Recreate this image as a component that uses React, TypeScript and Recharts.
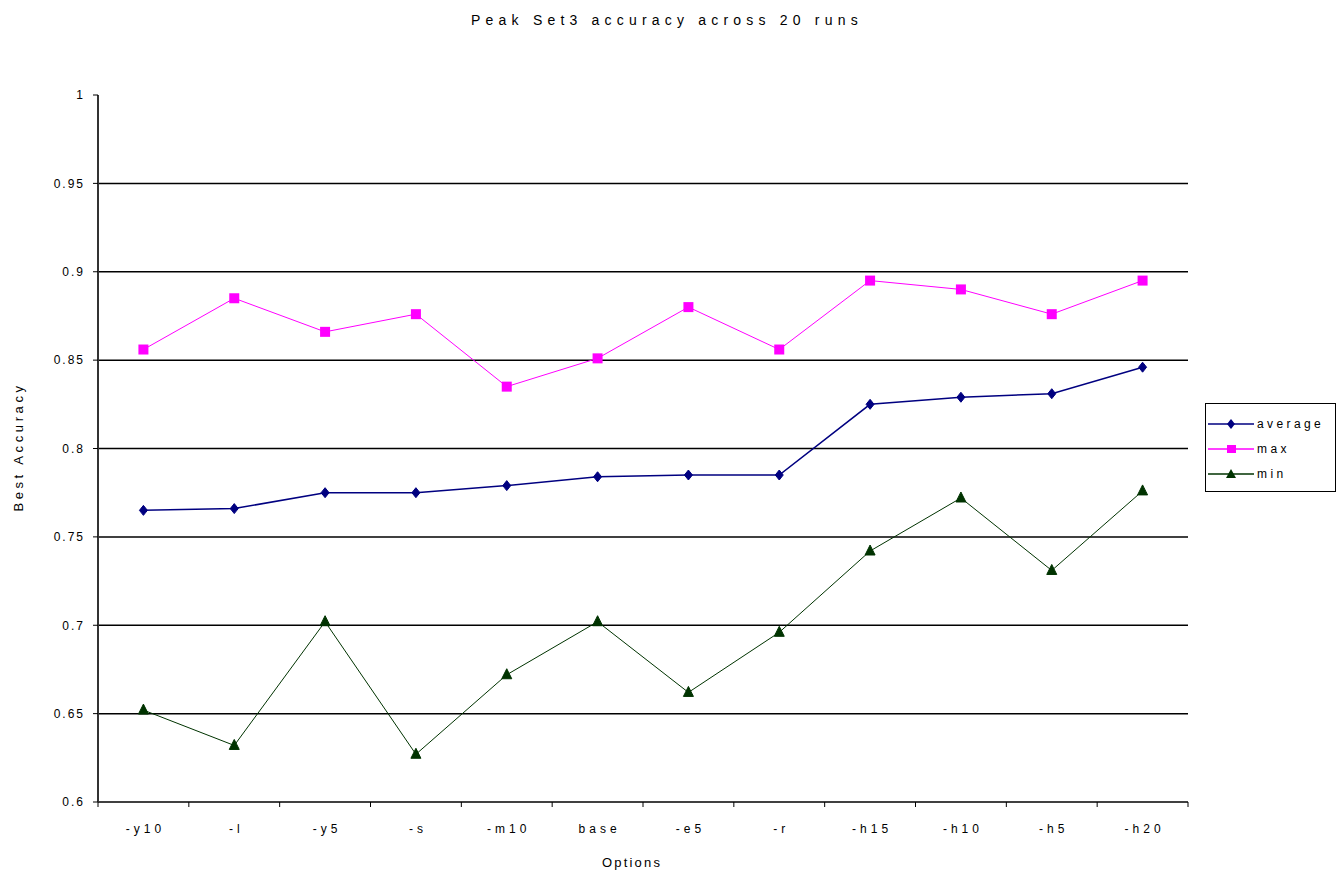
import React from "react";
import { LineChart, Line, XAxis, YAxis, ReferenceLine } from "recharts";

const categories = ["-y10", "-l", "-y5", "-s", "-m10", "base", "-e5", "-r", "-h15", "-h10", "-h5", "-h20"];
const averageValues = [0.765, 0.766, 0.775, 0.775, 0.779, 0.784, 0.785, 0.785, 0.825, 0.829, 0.831, 0.846];
const maxValues = [0.856, 0.885, 0.866, 0.876, 0.835, 0.851, 0.880, 0.856, 0.895, 0.890, 0.876, 0.895];
const minValues = [0.652, 0.632, 0.702, 0.627, 0.672, 0.702, 0.662, 0.696, 0.742, 0.772, 0.731, 0.776];
const yTicks = [0.6, 0.65, 0.7, 0.75, 0.8, 0.85, 0.9, 0.95, 1];
const gridValues = [0.65, 0.7, 0.75, 0.8, 0.85, 0.9, 0.95];

const data = categories.map((c, i) => ({
  name: c,
  average: averageValues[i],
  max: maxValues[i],
  min: minValues[i],
}));

const W = 1337;
const H = 873;
const PLOT_LEFT = 98;
const PLOT_RIGHT = 1188;
const PLOT_TOP = 95;
const PLOT_BOTTOM = 802;
const Y_AXIS_W = 60;
const X_AXIS_H = 30;
const STEP = (PLOT_RIGHT - PLOT_LEFT) / categories.length;
const FONT = "'Liberation Sans', Arial, sans-serif";

const AVG_COLOR = "#000080";
const MAX_COLOR = "#FF00FF";
const MIN_COLOR = "#003300";

const Diamond = (props: any) => {
  const { cx, cy } = props;
  if (cx == null || cy == null) return null;
  return (
    <polygon
      points={`${cx},${cy - 5} ${cx + 4},${cy} ${cx},${cy + 5} ${cx - 4},${cy}`}
      fill={AVG_COLOR}
      stroke={AVG_COLOR}
    />
  );
};

const Square = (props: any) => {
  const { cx, cy } = props;
  if (cx == null || cy == null) return null;
  return <rect x={cx - 5} y={cy - 5} width={10} height={10} fill={MAX_COLOR} />;
};

const Triangle = (props: any) => {
  const { cx, cy } = props;
  if (cx == null || cy == null) return null;
  return (
    <polygon
      points={`${cx},${cy - 6} ${cx + 5},${cy + 4} ${cx - 5},${cy + 4}`}
      fill={MIN_COLOR}
      stroke={MIN_COLOR}
    />
  );
};

const XTick = (props: any) => {
  const { x, y, payload, index } = props;
  const lines = [<line key="l" x1={x - STEP / 2} x2={x - STEP / 2} y1={y - 8} y2={y - 3} stroke="#000" />];
  if (index === categories.length - 1) {
    lines.push(<line key="r" x1={x + STEP / 2} x2={x + STEP / 2} y1={y - 8} y2={y - 3} stroke="#000" />);
  }
  return (
    <g>
      {lines}
      <text
        x={x + 2}
        y={y + 23}
        textAnchor="middle"
        fontFamily={FONT}
        fontSize={12}
        letterSpacing={4}
        fill="#000"
      >
        {payload.value}
      </text>
    </g>
  );
};

const legendItems = [
  { label: "average", color: AVG_COLOR, shape: "diamond" },
  { label: "max", color: MAX_COLOR, shape: "square" },
  { label: "min", color: MIN_COLOR, shape: "triangle" },
];

const LegendMarker = ({ color, shape }: { color: string; shape: string }) => (
  <svg width={48} height={12} style={{ display: "block" }}>
    <line x1={2} x2={48} y1={6} y2={6} stroke={color} strokeWidth={1.5} />
    {shape === "diamond" && <polygon points="25,1 29,6 25,11 21,6" fill={color} />}
    {shape === "square" && <rect x={21} y={2} width={9} height={8} fill={color} />}
    {shape === "triangle" && <polygon points="25,1 30,10 20,10" fill={color} />}
  </svg>
);

export default function App() {
  return (
    <div style={{ position: "absolute", left: 0, top: 0, width: W, height: H, background: "#fff" }}>
      <LineChart
        width={W}
        height={H}
        data={data}
        margin={{
          top: PLOT_TOP,
          right: W - PLOT_RIGHT,
          left: PLOT_LEFT - Y_AXIS_W,
          bottom: H - PLOT_BOTTOM - X_AXIS_H,
        }}
      >
        <XAxis
          dataKey="name"
          height={X_AXIS_H}
          padding={{ left: STEP / 2, right: STEP / 2 }}
          tickLine={false}
          axisLine={{ stroke: "#000", strokeWidth: 1.5 }}
          tick={<XTick />}
          interval={0}
        />
        <XAxis
          xAxisId="top"
          orientation="top"
          dataKey="name"
          height={0}
          tick={false}
          tickLine={false}
          axisLine={{ stroke: "#999", strokeWidth: 1 }}
        />
        <YAxis
          width={Y_AXIS_W}
          domain={[0.6, 1]}
          ticks={yTicks}
          interval={0}
          tickSize={5}
          tickMargin={8}
          tickLine={{ stroke: "#000" }}
          axisLine={{ stroke: "#333", strokeWidth: 2 }}
          tickFormatter={(v: number) => (v === 1 ? "1" : String(v))}
          tick={{ fontFamily: FONT, fontSize: 12, fill: "#000", letterSpacing: 2 }}
        />
        <YAxis
          yAxisId="right"
          orientation="right"
          width={0}
          domain={[0.6, 1]}
          tick={false}
          tickLine={false}
          axisLine={{ stroke: "#999", strokeWidth: 1.5 }}
        />
        {gridValues.map((g) => (
          <ReferenceLine key={g} y={g} stroke="#000" strokeWidth={1.5} ifOverflow="visible" />
        ))}
        <Line
          type="linear"
          dataKey="average"
          stroke={AVG_COLOR}
          strokeWidth={1.5}
          dot={<Diamond />}
          activeDot={false}
          isAnimationActive={false}
        />
        <Line
          type="linear"
          dataKey="max"
          stroke={MAX_COLOR}
          strokeWidth={1}
          dot={<Square />}
          activeDot={false}
          isAnimationActive={false}
        />
        <Line
          type="linear"
          dataKey="min"
          stroke={MIN_COLOR}
          strokeWidth={1}
          dot={<Triangle />}
          activeDot={false}
          isAnimationActive={false}
        />
        <text
          x={667}
          y={25}
          textAnchor="middle"
          fontFamily={FONT}
          fontSize={14}
          letterSpacing={5.2}
          fill="#000"
        >
          Peak Set3 accuracy across 20 runs
        </text>
        <text
          x={632}
          y={867}
          textAnchor="middle"
          fontFamily={FONT}
          fontSize={13}
          letterSpacing={2.2}
          fill="#000"
        >
          Options
        </text>
        <text
          x={23}
          y={447}
          textAnchor="middle"
          fontFamily={FONT}
          fontSize={13}
          letterSpacing={3.6}
          fill="#000"
          transform="rotate(-90 23 447)"
        >
          Best Accuracy
        </text>
      </LineChart>
      <div
        style={{
          position: "absolute",
          left: 1205,
          top: 403,
          width: 131,
          height: 89,
          border: "1.5px solid #000",
          background: "#fff",
          fontFamily: FONT,
          fontSize: 12,
          letterSpacing: 3.4,
          boxSizing: "border-box",
          paddingTop: 7,
        }}
      >
        {legendItems.map((it) => (
          <div key={it.label} style={{ display: "flex", alignItems: "center", height: 25 }}>
            <LegendMarker color={it.color} shape={it.shape} />
            <span style={{ marginLeft: 3 }}>{it.label}</span>
          </div>
        ))}
      </div>
    </div>
  );
}
